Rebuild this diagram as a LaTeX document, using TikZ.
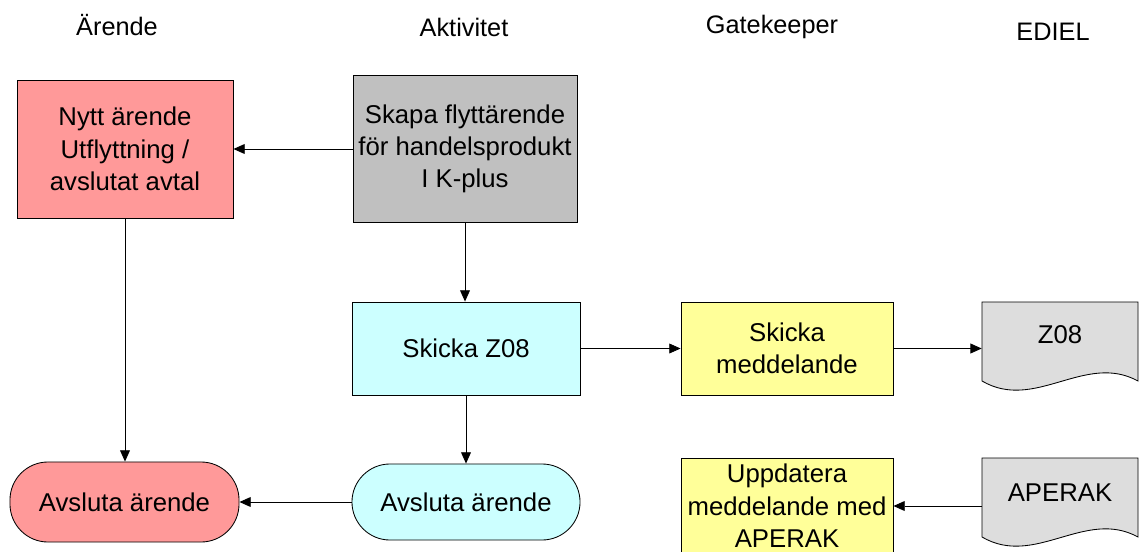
\documentclass[tikz,border=0pt]{standalone}
\usepackage{fontspec}
\setmainfont{Liberation Sans}
\usetikzlibrary{arrows.meta}
\definecolor{redbox}{HTML}{FF9999}
\definecolor{graybox}{HTML}{C0C0C0}
\definecolor{cyanbox}{HTML}{CCFFFF}
\definecolor{yelbox}{HTML}{FFFF99}
\definecolor{docgray}{HTML}{DDDDDD}
\begin{document}
\begin{tikzpicture}[x=0.025cm,y=-0.025cm,
  every node/.style={font=\fontsize{18.3}{23}\selectfont, align=center, inner sep=0pt},
  box/.style={draw=black, line width=0.6pt, rectangle},
  pill/.style={draw=black, line width=0.6pt, rectangle, rounded corners=0.95cm},
  hdr/.style={font=\fontsize{18}{22}\selectfont},
  conn/.style={draw=black, line width=0.6pt, -{Triangle[length=8pt,width=7pt]}},
  docshape/.style={draw=black, line width=0.6pt, fill=docgray}
]
\useasboundingbox (0,0) rectangle (1141,551);
% headers
\node[hdr] (h1) at (117,25) {Ärende};
\node[hdr] (h2) at (464,27) {Aktivitet};
\node[hdr] (h3) at (772,27) {Gatekeeper};
\node[hdr] (h4) at (1053,32) {EDIEL};
% boxes
\node[box, fill=redbox, minimum width=5.4cm, minimum height=3.45cm] (nytt) at (125,149) {Nytt ärende\\Utflyttning /\\avslutat avtal};
\node[box, fill=graybox, minimum width=5.6cm, minimum height=3.675cm] (skapa) at (465,149) {Skapa flyttärende\\för handelsprodukt\\I K-plus};
\node[box, fill=cyanbox, minimum width=5.7cm, minimum height=2.325cm] (skz) at (466,348.5) {Skicka Z08};
\node[box, fill=yelbox, minimum width=5.3cm, minimum height=2.325cm] (gk1) at (787,348.5) {Skicka\\meddelande};
\node[pill, fill=cyanbox, minimum width=5.7cm, minimum height=1.9cm] (avc) at (466,502) {Avsluta ärende};
\node[pill, fill=redbox, minimum width=5.725cm, minimum height=2.0cm] (avr) at (124.5,502) {Avsluta ärende};
\node[box, fill=yelbox, minimum width=5.3cm, minimum height=2.4cm] (upd) at (787,506) {Uppdatera\\meddelande med\\APERAK};
% documents
\draw[docshape] (982,302) -- (1138,302) -- (1138,381)
  .. controls (1085,352) and (1035,412) .. (982,381) -- cycle;
\node[minimum width=3.9cm, minimum height=1.2cm] (doc1) at (1060,335) {Z08};
\draw[docshape] (982,458) -- (1138,458) -- (1138,537)
  .. controls (1085,508) and (1035,568) .. (982,537) -- cycle;
\node[minimum width=3.9cm, minimum height=1.2cm] (doc2) at (1060,493) {APERAK};
% connectors
\draw[conn] (skapa.west) -- (nytt.east);
\draw[conn] (skapa.south) -- (skapa.south |- skz.north);
\draw[conn] (skz.east) -- (gk1.west);
\draw[conn] (gk1.east) -- (gk1.east -| doc1.west);
\draw[conn] (nytt.south) -- (nytt.south |- avr.north);
\draw[conn] (skz.south) -- (avc.north);
\draw[conn] (avc.west) -- (avr.east);
\draw[conn] (doc2.west |- upd.east) -- (upd.east);
\end{tikzpicture}
\end{document}
